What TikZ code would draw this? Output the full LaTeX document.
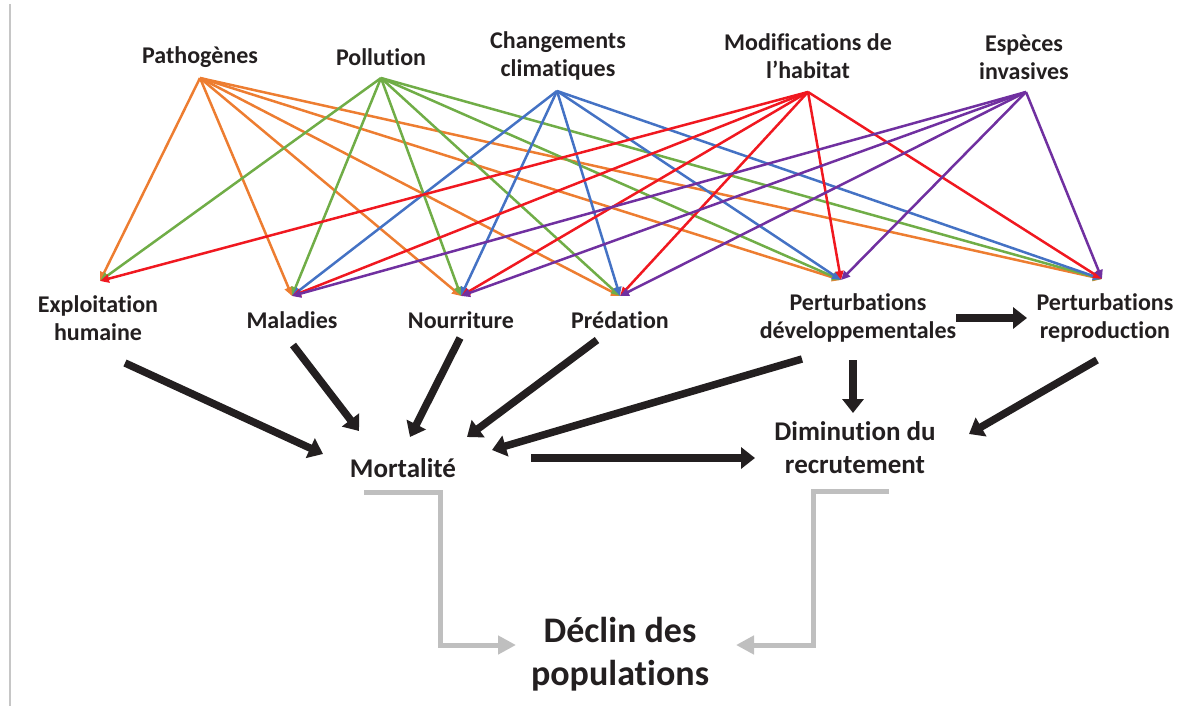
\documentclass[tikz,border=0pt]{standalone}
\usepackage{fontspec}
\setmainfont{Carlito}[Ligatures=NoCommon]
\usepackage{xcolor}
\usetikzlibrary{arrows.meta}

\definecolor{ink}{RGB}{35,31,32}
\definecolor{patcol}{RGB}{237,125,49}
\definecolor{polcol}{RGB}{112,173,71}
\definecolor{chacol}{RGB}{68,114,196}
\definecolor{modcol}{RGB}{240,24,32}
\definecolor{espcol}{RGB}{112,48,160}
\definecolor{declin}{RGB}{191,191,191}

\begin{document}
\begin{tikzpicture}[x=1pt, y=-1pt,
    lbl/.style={font=\bfseries\fontsize{24}{28}\selectfont, text=ink, align=center, inner sep=0pt},
    mid/.style={font=\bfseries\fontsize{27}{33}\selectfont, text=ink, align=center, inner sep=0pt},
    big/.style={font=\bfseries\fontsize{36}{43}\selectfont, text=ink, align=center, inner sep=0pt},
    fan/.style={line width=2.5pt, -{Triangle[length=9pt,width=8pt]}},
    bigarrow/.style={ink, line width=7.5pt, -{Triangle[length=14pt,width=21pt]}},
    greyarrow/.style={declin, line width=5pt, line join=miter, -{Triangle[length=18pt,width=18pt]}}]
    \useasboundingbox (0,0) rectangle (1204,706);
    \draw[gray!45, line width=2pt] (10,4) -- (10,706);

    \node[lbl] (pat) at (200,57) {Pathogènes};
    \node[lbl] (pol) at (381,57) {Pollution};
    \node[lbl] (cha) at (558,56) {Changements\\climatiques};
    \node[lbl] (mod) at (808,56) {Modifications de\\l’habitat};
    \node[lbl] (esp) at (1024,57) {Espèces\\invasives};

    \node[lbl] (exp) at (98,318) {Exploitation\\humaine};
    \node[lbl] (mal) at (292,320) {Maladies};
    \node[lbl] (nou) at (461,320) {Nourriture};
    \node[lbl] (pre) at (620,320) {Prédation};
    \node[lbl] (dev) at (858,318) {Perturbations\\développementales};
    \node[lbl] (rep) at (1105,318) {Perturbations\\reproduction};

    \node[mid] (mor) at (403,468) {Mortalité};
    \node[mid] (dim) at (855,448) {Diminution du\\recrutement};
    \node[big] (dec) at (620,654) {Déclin des\\populations};

    % fan ends
    \coordinate (pat-o) at ([shift={(0,21)}]pat.center);
    \coordinate (pol-o) at ([shift={(0,21)}]pol.center);
    \coordinate (cha-o) at ([shift={(-1,35)}]cha.center);
    \coordinate (mod-o) at ([shift={(0,36)}]mod.center);
    \coordinate (esp-o) at ([shift={(2,35)}]esp.center);
    \coordinate (exp-i) at ([shift={(2,-37)}]exp.center);
    \coordinate (mal-i) at ([shift={(0,-24)}]mal.center);
    \coordinate (nou-i) at ([shift={(0,-24)}]nou.center);
    \coordinate (pre-i) at ([shift={(0,-24)}]pre.center);
    \coordinate (dev-i) at ([shift={(-17,-38)}]dev.center);
    \coordinate (rep-i) at ([shift={(-3,-39)}]rep.center);

    \foreach \t in {exp,mal,nou,pre,dev,rep}
        \draw[fan, patcol] (pat-o) -- (\t-i);
    \foreach \t in {exp,mal,nou,pre,dev,rep}
        \draw[fan, polcol] (pol-o) -- (\t-i);
    \foreach \t in {mal,nou,pre,dev,rep}
        \draw[fan, chacol] (cha-o) -- (\t-i);
    \foreach \t in {exp,mal,nou,pre,dev,rep}
        \draw[fan, modcol] (mod-o) -- (\t-i);
    \foreach \t in {mal,nou,pre,dev,rep}
        \draw[fan, espcol] (esp-o) -- (\t-i);

    \draw[bigarrow] ([shift={(27,45)}]exp.center) -- ([shift={(-80,-14)}]mor.center);
    \draw[bigarrow] ([shift={(1,25)}]mal.center) -- ([shift={(-44,-37)}]mor.center);
    \draw[bigarrow] ([shift={(-1,18)}]nou.center) -- ([shift={(7,-31)}]mor.center);
    \draw[bigarrow] ([shift={(-23,20)}]pre.center) -- ([shift={(64,-31)}]mor.center);
    \draw[bigarrow] ([shift={(-56,41)}]dev.center) -- ([shift={(89,-18)}]mor.center);
    \draw[bigarrow] ([shift={(-5,42)}]dev.center) -- ([shift={(-2,-35)}]dim.center);
    \draw[bigarrow] ([shift={(98,0)}]dev.center) -- ([shift={(-78,0)}]rep.center);
    \draw[bigarrow] ([shift={(-8,42)}]rep.center) -- ([shift={(114,-14)}]dim.center);
    \draw[bigarrow] ([shift={(128,-10)}]mor.center) -- ([shift={(-100,10)}]dim.center);

    \draw[greyarrow] ([shift={(-39,24)}]mor.center) -- ++(76,0) |- ([shift={(-104,-9)}]dec.center);
    \draw[greyarrow] ([shift={(34,43)}]dim.center) -- ++(-76,0) |- ([shift={(116,-9)}]dec.center);
\end{tikzpicture}
\end{document}
